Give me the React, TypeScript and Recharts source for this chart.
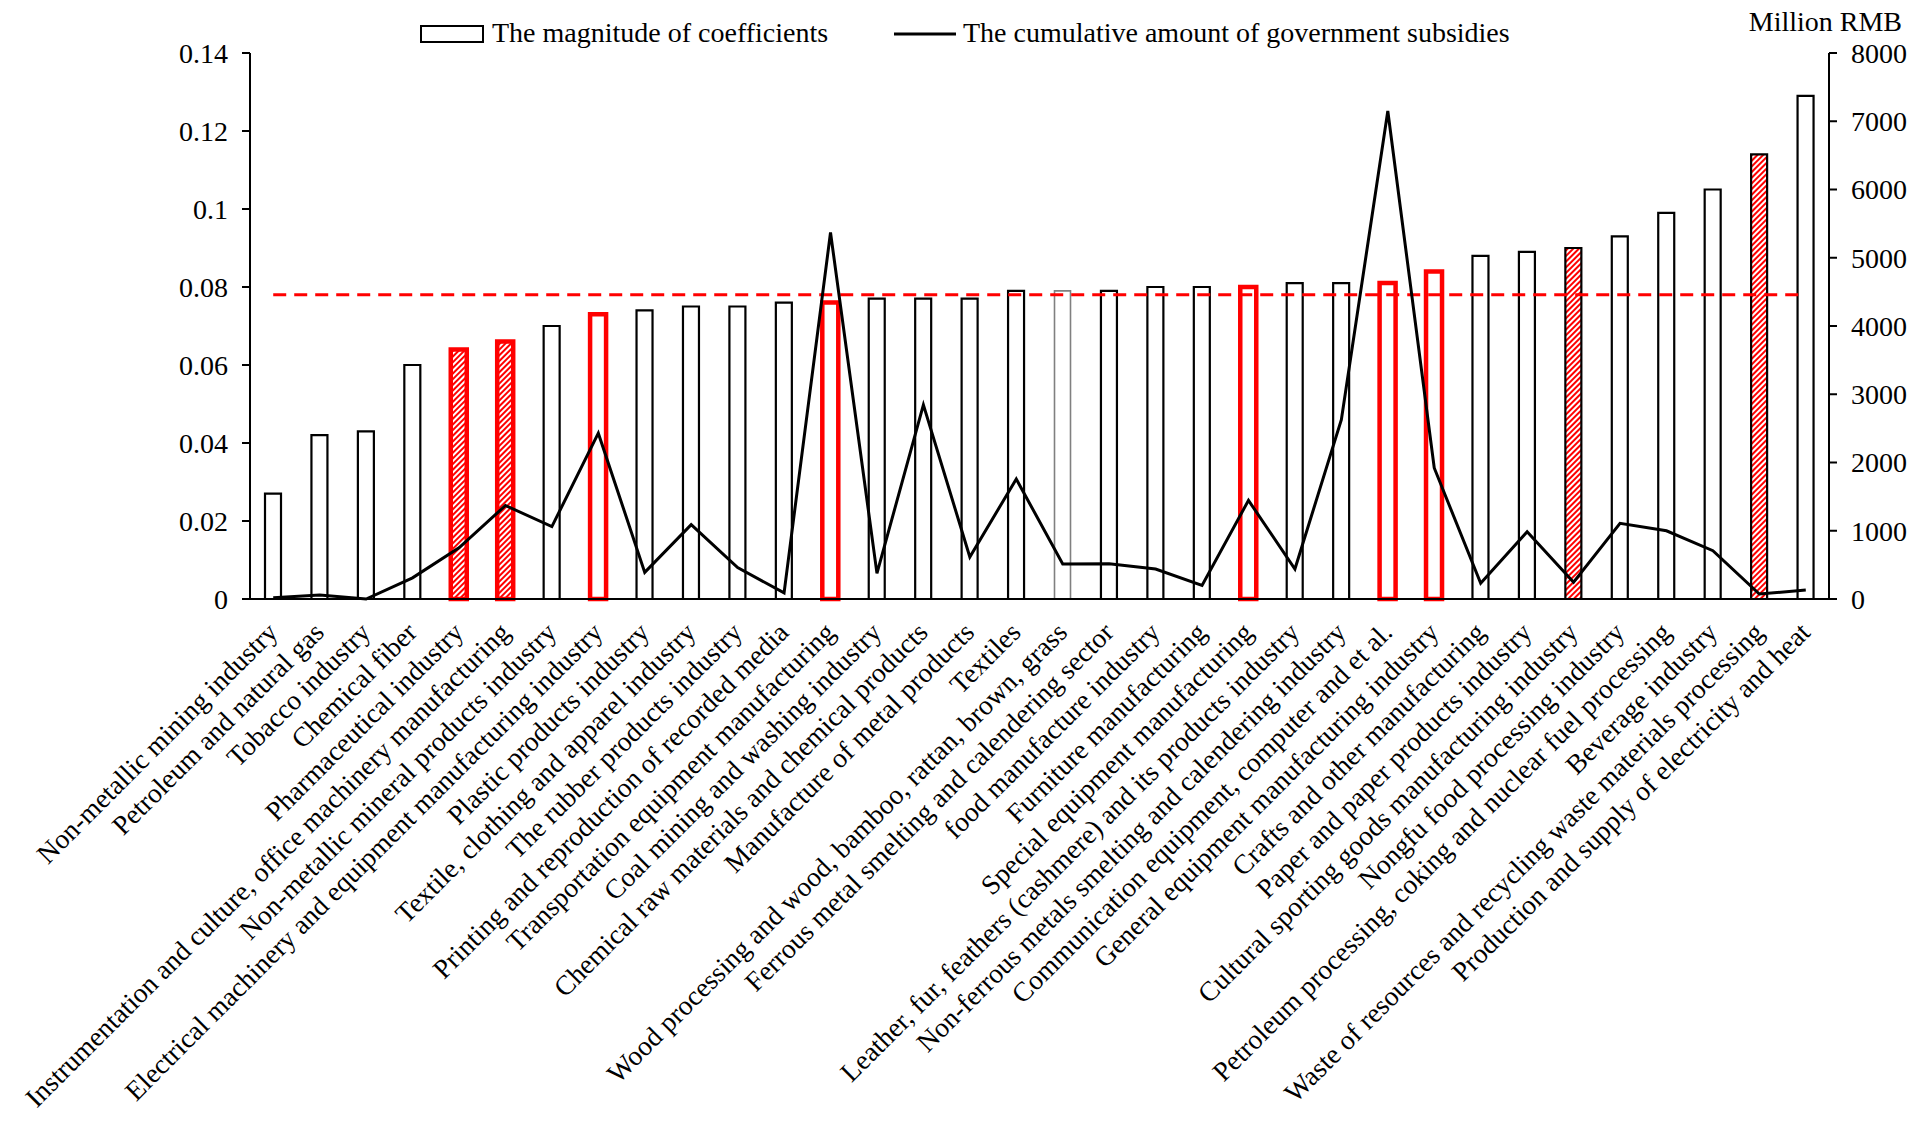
import React from 'react';
import {
  ComposedChart,
  Bar,
  Line,
  Cell,
  XAxis,
  YAxis,
  ReferenceLine,
} from 'recharts';

const categories = [
  'Non-metallic mining industry',
  'Petroleum and natural gas',
  'Tobacco industry',
  'Chemical fiber',
  'Pharmaceutical industry',
  'Instrumentation and culture, office machinery manufacturing',
  'Non-metallic mineral products industry',
  'Electrical machinery and equipment manufacturing industry',
  'Plastic products industry',
  'Textile, clothing and apparel industry',
  'The rubber products industry',
  'Printing and reproduction of recorded media',
  'Transportation equipment manufacturing',
  'Coal mining and washing industry',
  'Chemical raw materials and chemical products',
  'Manufacture of metal products',
  'Textiles',
  'Wood processing and wood, bamboo, rattan, brown, grass',
  'Ferrous metal smelting and calendering sector',
  'food manufacture industry',
  'Furniture manufacturing',
  'Special equipment manufacturing',
  'Leather, fur, feathers (cashmere) and its products industry',
  'Non-ferrous metals smelting and calendering industry',
  'Communication equipment, computer and et al.',
  'General equipment manufacturing industry',
  'Crafts and other manufacturing',
  'Paper and paper products industry',
  'Cultural sporting goods manufacturing industry',
  'Nongfu food processing industry',
  'Petroleum processing, coking and nuclear fuel processing',
  'Beverage industry',
  'Waste of resources and recycling waste materials processing',
  'Production and supply of electricity and heat',
];

// magnitude of coefficients (left axis)
const coefficients = [
  0.027, 0.042, 0.043, 0.06, 0.064, 0.066, 0.07, 0.073, 0.074, 0.075, 0.075,
  0.076, 0.076, 0.077, 0.077, 0.077, 0.079, 0.079, 0.079, 0.08, 0.08, 0.08,
  0.081, 0.081, 0.081, 0.084, 0.088, 0.089, 0.09, 0.093, 0.099, 0.105, 0.114,
  0.129,
];

// cumulative government subsidies, million RMB (right axis)
const subsidies = [
  20, 60, 0, 310, 750, 1370, 1060, 2430, 390, 1090, 460, 90, 5370, 375, 2845,
  615, 1758, 513, 515, 440, 200, 1445, 440, 2627, 7150, 1920, 230, 986, 245,
  1109, 1000, 708, 73, 132,
];

const average = 0.078;

const leftTicks = [0, 0.02, 0.04, 0.06, 0.08, 0.1, 0.12, 0.14];
const rightTicks = [0, 1000, 2000, 3000, 4000, 5000, 6000, 7000, 8000];

// highlighted industries
const redHatched = [
  'Pharmaceutical industry',
  'Instrumentation and culture, office machinery manufacturing',
];
const redOutlined = [
  'Electrical machinery and equipment manufacturing industry',
  'Transportation equipment manufacturing',
  'Special equipment manufacturing',
  'Communication equipment, computer and et al.',
  'General equipment manufacturing industry',
];
const blackHatched = [
  'Cultural sporting goods manufacturing industry',
  'Waste of resources and recycling waste materials processing',
];
const greyOutlined = ['Wood processing and wood, bamboo, rattan, brown, grass'];

const rows = categories.map((name, i) => ({
  name,
  coef: coefficients[i],
  subsidy: subsidies[i],
}));

const FONT = '"Liberation Serif", "Times New Roman", serif';
const tickStyle = { fill: '#000', fontSize: 28, fontFamily: FONT };

const cellStyle = (name: string) => {
  if (redHatched.includes(name))
    return { fill: 'url(#redHatch)', stroke: '#ff0000', strokeWidth: 4.5 };
  if (redOutlined.includes(name))
    return { fill: '#fff', stroke: '#ff0000', strokeWidth: 4.5 };
  if (blackHatched.includes(name))
    return { fill: 'url(#redHatch)', stroke: '#000', strokeWidth: 2.2 };
  if (greyOutlined.includes(name))
    return { fill: '#fff', stroke: '#808080', strokeWidth: 1.6 };
  return { fill: '#fff', stroke: '#000', strokeWidth: 2.2 };
};

const AxisTick = ({ x, y, payload }: any) => {
  const tx = x + 6;
  const ty = y + 35;
  return (
    <text
      x={tx}
      y={ty}
      transform={`rotate(-45 ${tx} ${ty})`}
      textAnchor='end'
      fill='#000'
      fontSize={27.5}
      fontFamily={FONT}
    >
      {payload.value}
    </text>
  );
};

const fmtLeft = (v: number) => String(Number(v.toFixed(2)));

export default function App() {
  return (
    <div style={{ position: 'relative', width: 1901, height: 1105 }}>
      <ComposedChart
        width={1901}
        height={1105}
        data={rows}
        margin={{ top: 45, right: 0, bottom: 0, left: 0 }}
      >
        <XAxis
          dataKey='name'
          interval={0}
          height={514}
          tickLine={false}
          tickSize={0}
          tickMargin={0}
          axisLine={{ stroke: '#000', strokeWidth: 2 }}
          tick={<AxisTick />}
        />
        <YAxis
          yAxisId='left'
          width={242}
          domain={[0, 0.14]}
          ticks={leftTicks}
          tickFormatter={fmtLeft}
          tickSize={8}
          tickMargin={14}
          axisLine={{ stroke: '#000', strokeWidth: 2 }}
          tickLine={{ stroke: '#000', strokeWidth: 2 }}
          tick={tickStyle}
        />
        <YAxis
          yAxisId='right'
          orientation='right'
          width={80}
          domain={[0, 8000]}
          ticks={rightTicks}
          tickSize={8}
          tickMargin={14}
          axisLine={{ stroke: '#000', strokeWidth: 2 }}
          tickLine={{ stroke: '#000', strokeWidth: 2 }}
          tick={tickStyle}
        />
        <Bar
          yAxisId='left'
          dataKey='coef'
          barSize={16}
          isAnimationActive={false}
        >
          {rows.map((r) => (
            <Cell key={r.name} {...cellStyle(r.name)} />
          ))}
        </Bar>
        <ReferenceLine
          yAxisId='left'
          segment={[
            { x: categories[0], y: average },
            { x: categories[categories.length - 1], y: average },
          ]}
          stroke='#ff0000'
          strokeWidth={3}
          strokeDasharray='13 8'
        />
        <Line
          yAxisId='right'
          dataKey='subsidy'
          type='linear'
          stroke='#000'
          strokeWidth={3}
          dot={false}
          isAnimationActive={false}
        />
      </ComposedChart>

      {/* legend, unit label and hatch pattern */}
      <svg
        width={1901}
        height={60}
        style={{ position: 'absolute', left: 0, top: 0, pointerEvents: 'none' }}
      >
        <defs>
          <pattern
            id='redHatch'
            patternUnits='userSpaceOnUse'
            width='4'
            height='4'
            patternTransform='rotate(45)'
          >
            <rect width='4' height='4' fill='#fff' />
            <line x1='1' y1='0' x2='1' y2='4' stroke='#ff0000' strokeWidth='2' />
          </pattern>
        </defs>
        <rect x={413} y={18} width={62} height={16} fill='#fff' stroke='#000' strokeWidth={2} />
        <text x={484} y={34} fontSize={28} fontFamily={FONT} fill='#000'>
          The magnitude of coefficients
        </text>
        <line x1={886} y1={26} x2={948} y2={26} stroke='#000' strokeWidth={3} />
        <text x={955} y={34} fontSize={28} fontFamily={FONT} fill='#000'>
          The cumulative amount of government subsidies
        </text>
        <text x={1894} y={23} textAnchor='end' fontSize={28} fontFamily={FONT} fill='#000'>
          Million RMB
        </text>
      </svg>
    </div>
  );
}
